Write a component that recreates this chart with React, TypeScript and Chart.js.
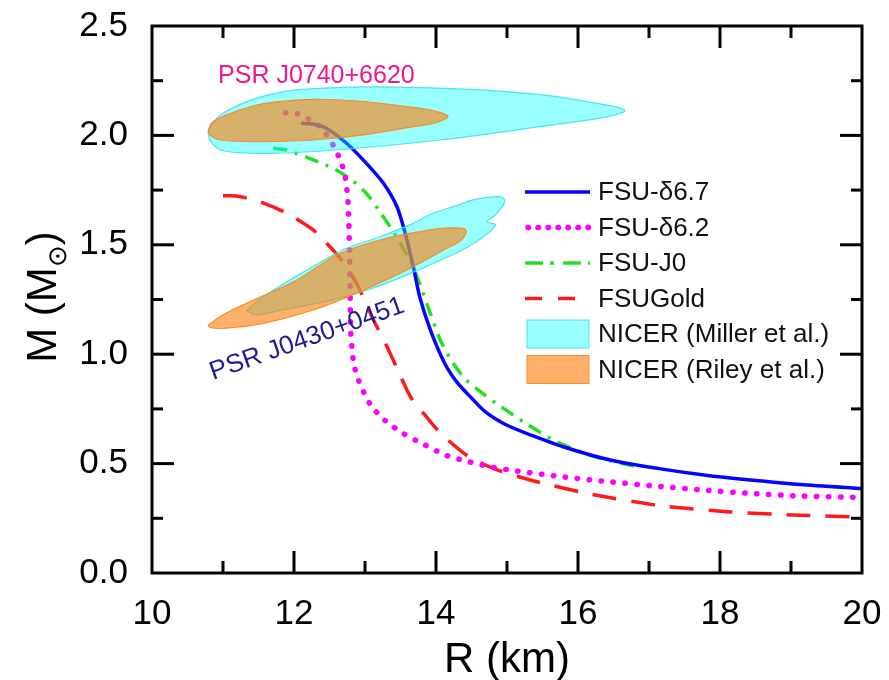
import { useEffect, useRef } from 'react';
import { Chart, registerables } from 'chart.js';

Chart.register(...registerables);

const FONT = '"Liberation Sans", Arial, Helvetica, sans-serif';

// ---- axis ranges / ticks ----
const xRange = [10, 20];
const yRange = [0, 2.5];
const xStep = 2;
const yStep = 0.5;

// ---- curves (R in km, M in solar masses) ----
const fsuD67R = [12.10, 12.27, 12.46, 12.74, 13.02, 13.26, 13.45, 13.56, 13.68, 13.77, 13.92, 14.12, 14.30, 14.50, 14.70, 15.0, 15.34, 15.8, 16.47, 17.14, 17.8, 18.47, 19.13, 20.0];
const fsuD67M = [2.055, 2.052, 2.032, 1.964, 1.872, 1.781, 1.674, 1.56, 1.40, 1.263, 1.111, 0.96, 0.87, 0.80, 0.735, 0.675, 0.63, 0.576, 0.515, 0.477, 0.447, 0.424, 0.404, 0.386];

const fsuD62R = [11.88, 12.04, 12.27, 12.41, 12.55, 12.67, 12.72, 12.76, 12.78, 12.79, 12.80, 12.84, 12.91, 13.08, 13.28, 13.54, 13.81, 14.14, 14.47, 14.81, 15.14, 15.8, 16.47, 17.14, 17.8, 18.47, 19.13, 20.0];
const fsuD62M = [2.104, 2.10, 2.063, 2.025, 1.956, 1.872, 1.81, 1.70, 1.50, 1.30, 1.10, 0.96, 0.88, 0.767, 0.698, 0.637, 0.591, 0.538, 0.508, 0.482, 0.466, 0.439, 0.416, 0.396, 0.378, 0.363, 0.352, 0.345];

const fsuJ0R = [11.71, 11.90, 12.27, 12.55, 12.80, 13.02, 13.21, 13.40, 13.63, 13.77, 13.92, 14.06, 14.22, 14.40, 14.62, 14.87, 15.27, 15.67, 16.2, 16.87];
const fsuJ0M = [1.941, 1.933, 1.888, 1.85, 1.80, 1.735, 1.65, 1.56, 1.43, 1.324, 1.187, 1.065, 0.97, 0.89, 0.83, 0.77, 0.683, 0.605, 0.535, 0.482];

const fsuGoldR = [11.0, 11.19, 11.52, 11.90, 12.27, 12.44, 12.65, 12.88, 13.12, 13.31, 13.50, 13.65, 13.85, 14.07, 14.47, 14.87, 15.34, 16.14, 17.14, 18.14, 19.13, 20.0];
const fsuGoldM = [1.724, 1.723, 1.697, 1.644, 1.568, 1.514, 1.438, 1.324, 1.156, 1.034, 0.90, 0.80, 0.72, 0.637, 0.53, 0.47, 0.424, 0.363, 0.309, 0.279, 0.264, 0.256];

// ---- NICER credible regions (closed outlines) ----
const millerJ0740R = [10.79, 10.95, 11.3, 11.7, 12.1, 13.1, 14.5, 15.5, 16.2, 16.66, 16.4, 15.46, 14.06, 12.65, 11.71, 11.0, 10.82, 10.79];
const millerJ0740M = [2.02, 2.09, 2.15, 2.19, 2.21, 2.222, 2.21, 2.185, 2.15, 2.115, 2.085, 2.04, 1.979, 1.935, 1.918, 1.93, 1.975, 2.02];

const rileyJ0740R = [10.79, 10.85, 11.10, 11.57, 12.27, 12.98, 13.68, 14.0, 14.17, 14.0, 13.68, 12.98, 12.27, 11.57, 10.96, 10.82, 10.79];
const rileyJ0740M = [2.025, 2.06, 2.10, 2.145, 2.165, 2.155, 2.128, 2.11, 2.087, 2.058, 2.04, 2.002, 1.979, 1.971, 1.979, 2.0, 2.025];

const millerJ0030R = [11.33, 11.6, 12.0, 12.55, 12.74, 13.21, 13.68, 13.96, 14.3, 14.52, 14.90, 14.97, 14.85, 14.72, 14.84, 14.5, 14.0, 13.5, 13.0, 12.5, 11.8, 11.45, 11.33];
const millerJ0030M = [1.20, 1.27, 1.35, 1.453, 1.484, 1.537, 1.598, 1.644, 1.68, 1.705, 1.72, 1.70, 1.64, 1.605, 1.59, 1.50, 1.42, 1.35, 1.29, 1.245, 1.20, 1.18, 1.20];

const rileyJ0030R = [10.79, 11.0, 11.33, 12.04, 12.60, 13.21, 13.92, 14.20, 14.38, 14.43, 14.35, 14.15, 13.68, 12.98, 12.27, 11.57, 11.0, 10.82, 10.79];
const rileyJ0030M = [1.133, 1.18, 1.233, 1.339, 1.453, 1.522, 1.568, 1.577, 1.575, 1.56, 1.52, 1.484, 1.40, 1.293, 1.202, 1.141, 1.118, 1.122, 1.133];

// ---- labels ----
const seriesLabels = ['FSU-δ6.7', 'FSU-δ6.2', 'FSU-J0', 'FSUGold', 'NICER (Miller et al.)', 'NICER (Riley et al.)'];
const psrTop = { text: 'PSR J0740+6620', r: 10.93, m: 2.24 };
const psrLow = { text: 'PSR J0430+0451', r: 10.86, m: 0.882 };
const xTitle = 'R (km)';

const pts = (xs: number[], ys: number[]) => xs.map((x, i) => ({ x, y: ys[i] }));

const BLUE = '#0505ff';
const MAGENTA = '#ff00ff';
const GREEN = '#22e022';
const RED = '#ff1a1a';
const CYAN_FILL = 'rgba(0,255,255,0.4)';
const CYAN_EDGE = 'rgba(60,225,235,0.9)';
const ORANGE_FILL = 'rgba(255,125,10,0.6)';
const ORANGE_EDGE = 'rgba(245,135,30,0.9)';

const curve = (label: string, xs: number[], ys: number[], color: string, dash: number[], width: number, cap: string) => ({
  label,
  data: pts(xs, ys),
  showLine: true,
  borderColor: color,
  backgroundColor: color,
  borderWidth: width,
  borderDash: dash,
  borderCapStyle: cap,
  borderJoinStyle: 'round',
  pointRadius: 0,
  tension: 0.25,
  fill: false,
  order: 3,
});

const region = (label: string, xs: number[], ys: number[], fillC: string, edge: string, order: number) => ({
  label,
  data: pts(xs, ys),
  showLine: true,
  borderColor: edge,
  backgroundColor: fillC,
  borderWidth: 1.2,
  pointRadius: 0,
  tension: 0.35,
  fill: 'shape',
  order,
});

const legendItems = [
  { label: seriesLabels[0], ds: 0, kind: 'line', dash: [] as number[] },
  { label: seriesLabels[1], ds: 1, kind: 'line', dash: [0.5, 9.5] },
  { label: seriesLabels[2], ds: 2, kind: 'line', dash: [18, 7, 4, 9] },
  { label: seriesLabels[3], ds: 3, kind: 'line', dash: [17, 16] },
  { label: seriesLabels[4], ds: 4, kind: 'box', dash: [] as number[] },
  { label: seriesLabels[5], ds: 6, kind: 'box', dash: [] as number[] },
];

const framePlugin = {
  id: 'frameTicks',
  afterDatasetsDraw(chart: any) {
    const { ctx, chartArea: a, scales } = chart;
    const x = scales.x;
    const y = scales.y;
    ctx.save();
    ctx.strokeStyle = '#000';
    ctx.lineCap = 'butt';
    ctx.lineWidth = 3;
    const seg = (x1: number, y1: number, x2: number, y2: number) => {
      ctx.beginPath();
      ctx.moveTo(x1, y1);
      ctx.lineTo(x2, y2);
      ctx.stroke();
    };
    for (let r = xRange[0] + 1; r < xRange[1]; r++) {
      const px = x.getPixelForValue(r);
      const len = r % 2 === 0 ? 22 : 12;
      seg(px, a.bottom, px, a.bottom - len);
      seg(px, a.top, px, a.top + len);
    }
    for (let k = 1; k < 10; k++) {
      const py = y.getPixelForValue(k * 0.25);
      const len = k % 2 === 0 ? 22 : 11;
      seg(a.left, py, a.left + len, py);
      seg(a.right, py, a.right - len, py);
    }
    ctx.lineWidth = 3;
    ctx.strokeRect(a.left, a.top, a.right - a.left, a.bottom - a.top);
    ctx.restore();
  },
};

const decorPlugin = {
  id: 'decor',
  afterDraw(chart: any) {
    const { ctx, chartArea: a, scales } = chart;
    const x = scales.x;
    const y = scales.y;
    ctx.save();
    // legend
    const x0 = 525;
    const x1 = 590;
    const textX = 598;
    const row0 = 192;
    const step = 35.5;
    ctx.font = `26px ${FONT}`;
    ctx.textBaseline = 'middle';
    ctx.textAlign = 'left';
    legendItems.forEach((it, i) => {
      const ds: any = chart.data.datasets[it.ds];
      const cy = row0 + i * step;
      if (it.kind === 'line') {
        ctx.save();
        ctx.strokeStyle = ds.borderColor;
        ctx.lineWidth = ds.borderWidth;
        ctx.lineCap = ds.borderCapStyle;
        ctx.setLineDash(it.dash);
        ctx.beginPath();
        ctx.moveTo(x0 + (ds.borderCapStyle === 'round' ? 3 : 0), cy);
        ctx.lineTo(x1, cy);
        ctx.stroke();
        ctx.restore();
      } else {
        ctx.fillStyle = ds.backgroundColor;
        ctx.fillRect(x0 + 2, cy - 14, x1 - x0 - 3, 28);
        ctx.strokeStyle = ds.borderColor;
        ctx.lineWidth = 1;
        ctx.strokeRect(x0 + 2, cy - 14, x1 - x0 - 3, 28);
      }
      ctx.fillStyle = '#111';
      ctx.fillText(it.label, textX, cy + 1);
    });

    // pulsar annotations
    ctx.textBaseline = 'alphabetic';
    ctx.font = `25px ${FONT}`;
    ctx.fillStyle = '#f0168c';
    ctx.fillText(psrTop.text, x.getPixelForValue(psrTop.r), y.getPixelForValue(psrTop.m));
    ctx.save();
    ctx.translate(x.getPixelForValue(psrLow.r), y.getPixelForValue(psrLow.m));
    ctx.rotate((-19.5 * Math.PI) / 180);
    ctx.font = `26px ${FONT}`;
    ctx.fillStyle = '#1c1c96';
    ctx.fillText(psrLow.text, 0, 0);
    ctx.restore();

    // axis titles
    ctx.fillStyle = '#000';
    ctx.font = `42px ${FONT}`;
    ctx.textAlign = 'center';
    ctx.fillText(xTitle, (a.left + a.right) / 2, 672);

    ctx.save();
    ctx.translate(56, 297);
    ctx.rotate(-Math.PI / 2);
    ctx.textAlign = 'left';
    const p1 = 'M (M';
    const sun = '⊙';
    const p2 = ')';
    ctx.font = `42px ${FONT}`;
    const w1 = ctx.measureText(p1).width;
    const w3 = ctx.measureText(p2).width;
    ctx.font = `26px ${FONT}`;
    const w2 = ctx.measureText(sun).width;
    const total = w1 + w2 + w3;
    let cx = -total / 2;
    ctx.font = `42px ${FONT}`;
    ctx.fillText(p1, cx, 0);
    cx += w1;
    ctx.font = `26px ${FONT}`;
    ctx.fillText(sun, cx, 10);
    cx += w2;
    ctx.font = `42px ${FONT}`;
    ctx.fillText(p2, cx, 0);
    ctx.restore();

    ctx.restore();
  },
};

const zeroPad = (s: any) => {
  s.paddingTop = 0;
  s.paddingBottom = 0;
  s.paddingLeft = 0;
  s.paddingRight = 0;
};

export default function App() {
  const ref = useRef<HTMLCanvasElement>(null);
  useEffect(() => {
    const datasets: any[] = [
      curve(seriesLabels[0], fsuD67R, fsuD67M, BLUE, [], 3.5, 'butt'),
      curve(seriesLabels[1], fsuD62R, fsuD62M, MAGENTA, [0.5, 11.5], 5.5, 'round'),
      curve(seriesLabels[2], fsuJ0R, fsuJ0M, GREEN, [14, 8, 3, 8], 3.5, 'butt'),
      curve(seriesLabels[3], fsuGoldR, fsuGoldM, RED, [24, 15], 3.5, 'butt'),
      region(seriesLabels[4], millerJ0740R, millerJ0740M, CYAN_FILL, CYAN_EDGE, 2),
      region(seriesLabels[4], millerJ0030R, millerJ0030M, CYAN_FILL, CYAN_EDGE, 2),
      region(seriesLabels[5], rileyJ0740R, rileyJ0740M, ORANGE_FILL, ORANGE_EDGE, 1),
      region(seriesLabels[5], rileyJ0030R, rileyJ0030M, ORANGE_FILL, ORANGE_EDGE, 1),
    ];
    const chart = new Chart(ref.current as HTMLCanvasElement, {
      type: 'scatter',
      data: { datasets },
      options: {
        responsive: false,
        animation: false,
        devicePixelRatio: 1,
        layout: { padding: { left: 0, top: 26, right: 27, bottom: 0 } },
        plugins: {
          legend: { display: false },
          tooltip: { enabled: false },
          title: { display: false },
        },
        scales: {
          x: {
            type: 'linear',
            min: xRange[0],
            max: xRange[1],
            grid: { display: false, drawTicks: false },
            border: { display: false },
            ticks: {
              stepSize: xStep,
              color: '#000',
              padding: 20,
              font: { family: FONT, size: 35 },
              maxRotation: 0,
            },
            afterFit: (s: any) => {
              s.height = 107;
              zeroPad(s);
            },
          },
          y: {
            type: 'linear',
            min: yRange[0],
            max: yRange[1],
            grid: { display: false, drawTicks: false },
            border: { display: false },
            ticks: {
              stepSize: yStep,
              color: '#000',
              padding: 24,
              font: { family: FONT, size: 35 },
              callback: (v: any) => Number(v).toFixed(1),
            },
            afterFit: (s: any) => {
              s.width = 152;
              zeroPad(s);
            },
          },
        },
      } as any,
      plugins: [framePlugin, decorPlugin],
    });
    return () => chart.destroy();
  }, []);
  return (
    <div style={{ position: 'absolute', left: 0, top: 0, width: 889, height: 680, background: '#fff' }}>
      <canvas ref={ref} width={889} height={680} style={{ display: 'block', width: 889, height: 680 }} />
    </div>
  );
}
